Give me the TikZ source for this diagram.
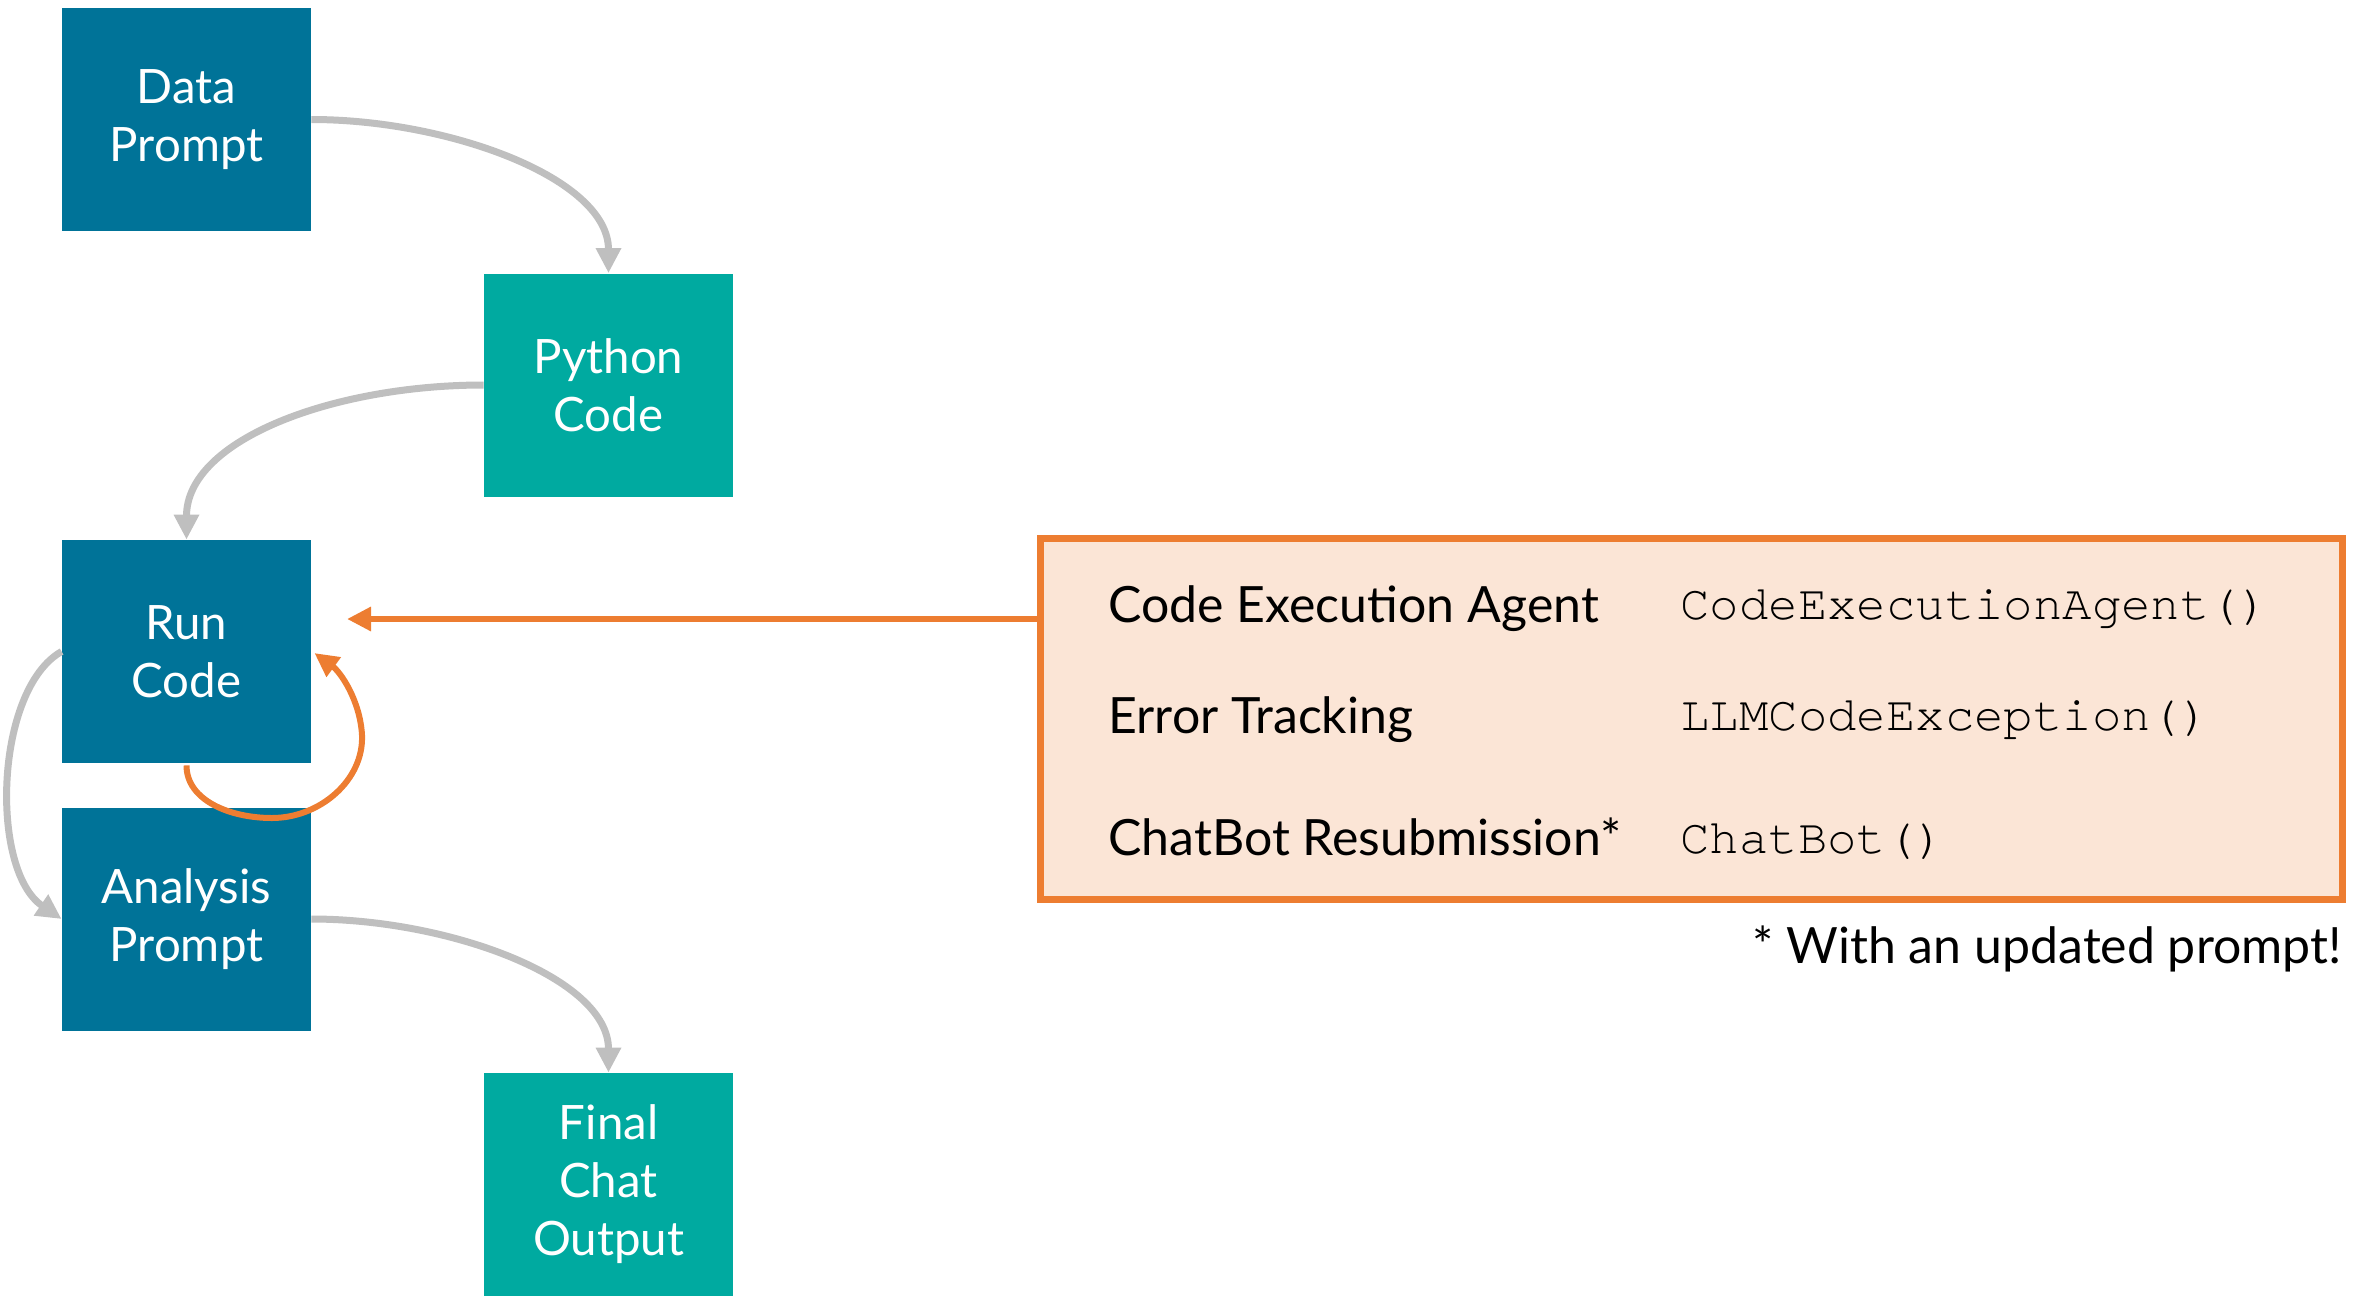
\documentclass[tikz,border=0pt]{standalone}
\usepackage{fontspec}
\setmainfont{Lato}
\setmonofont{texgyrecursor-regular.otf}
\usetikzlibrary{arrows.meta,calc}
\definecolor{stepblue}{HTML}{007398}
\definecolor{stepteal}{HTML}{00AAA0}
\definecolor{accent}{HTML}{ED7D31}
\definecolor{accentfill}{HTML}{FBE5D6}
\definecolor{flowgray}{HTML}{BFBFBF}

\begin{document}
\begin{tikzpicture}[x=0.5pt,y=-0.5pt,
  stepnode/.style={rectangle, minimum width=124.5pt, minimum height=111.5pt,
    inner sep=0pt, text=white, align=center,
    font=\fontsize{23.7}{29}\selectfont},
  bluebox/.style={stepnode, fill=stepblue},
  tealbox/.style={stepnode, fill=stepteal},
  flow/.style={draw=flowgray, line width=3.5pt,
    -{Triangle[length=12.5pt,width=12pt]}},
  feedback/.style={draw=accent, line width=3pt,
    -{Triangle[length=12pt,width=11.5pt]}},
  rowtext/.style={anchor=base west, inner sep=0pt,
    font=\fontsize{25}{30}\selectfont},
  codetext/.style={anchor=base west, inner sep=0pt,
    font=\fontsize{24.5}{30}\selectfont\ttfamily},
]
\useasboundingbox (0,0) rectangle (2355,1296);

% pipeline steps
\node[bluebox] (data)     at (186.5,119.5)  {Data\\Prompt};
\node[tealbox] (python)   at (608.5,385)    {Python\\Code};
\node[bluebox] (run)      at (186.5,651.5)  {Run\\Code};
\node[bluebox] (analysis) at (186.5,919)    {Analysis\\Prompt};
\node[tealbox] (final)    at (608.5,1184.5) {Final\\Chat\\Output};

% error handling panel
\node[draw=accent, fill=accentfill, line width=3.5pt, rectangle,
      minimum width=651pt, minimum height=180.5pt, inner sep=0pt]
      (panel) at (1691.5,719) {};
\node[rowtext]  (agent)   at (1108,622) {Code Execution Agent};
\node[rowtext]  (errors)  at (1108,733) {Error Tracking};
\node[rowtext]  (resub)   at (1108,855) {ChatBot Resubmission*};
\node[codetext] (agentfn) at (1680,619) {CodeExecutionAgent()};
\node[codetext] (errfn)   at (1680,730) {LLMCodeException()};
\node[codetext] (botfn)   at (1680,853) {ChatBot()};
\node[rowtext, anchor=base east] (note) at (2342,963) {* With an updated prompt!};

% main flow
\draw[flow] (data.east) .. controls +(137,0) and +(0,-95) .. (python.north);
\draw[flow] (python.west) .. controls +(-150,0) and +(0,-100) .. (run.north);
\draw[flow] (run.west) .. controls +(-67,38) and +(-72,-49) .. (analysis.west);
\draw[flow] (analysis.east) .. controls +(137,0) and +(0,-95) .. (final.north);

% feedback into the run step
\coordinate (fbstart) at (panel.west |- 0,619);
\coordinate (fbtip) at (347,619);
\draw[feedback] (fbstart) -- (fbtip);
\coordinate (retry) at ($(run.east)+(3,1.5)$);
\draw[feedback] ($(run.south)+(0,2)$)
  .. controls +(0,35) and +(-42,0) .. (272,818)
  .. controls +(48,0) and +(2,45) .. (362,735)
  .. controls +(-2,-35) and +(26,19) .. (retry);
\end{tikzpicture}
\end{document}
